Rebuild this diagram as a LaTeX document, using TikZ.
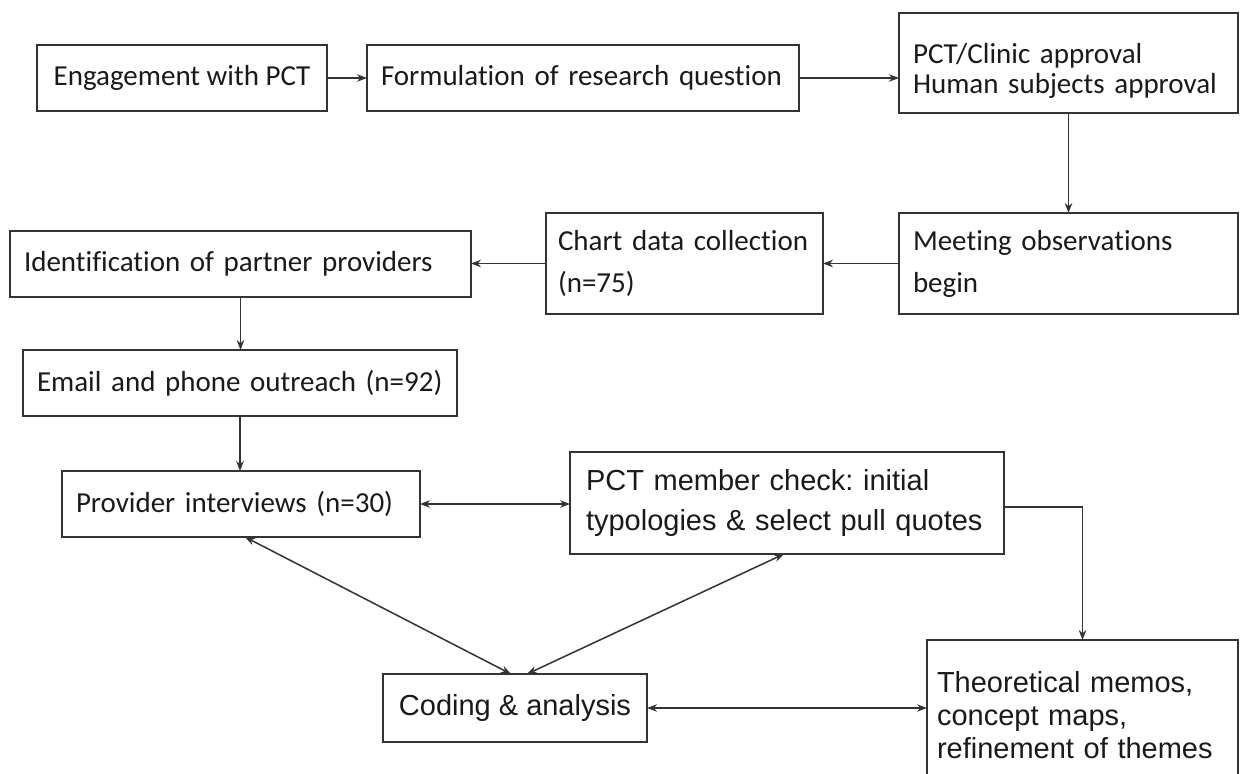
\documentclass[tikz,border=0pt]{standalone}
\usepackage{fontspec}
\setmainfont{Carlito}[Ligatures=NoCommon]
\newfontfamily\arialf{Liberation Sans}
\usetikzlibrary{arrows.meta,calc}
\definecolor{linec}{HTML}{333333}
\definecolor{txtc}{HTML}{1A1A1A}
\frenchspacing
\begin{document}
\begin{tikzpicture}[x=1pt,y=-1pt,
  box/.style={draw=linec, line width=1.6pt, anchor=north west, align=left,
    inner xsep=14pt, inner ysep=0pt, outer sep=0pt, text=txtc,
    font=\fontsize{29}{30}\selectfont},
  tip/.tip={Stealth[length=10pt,width=7.5pt]},
  conn/.style={draw=linec, line width=1.5pt, -tip},
  dconn/.style={draw=linec, line width=1.5pt, tip-tip}]
\clip (0,0) rectangle (1243,774);
\fill[white] (0,0) rectangle (1243,774);

\node[box, align=center, minimum width=290pt, minimum height=66pt] (b1) at (37,45) {Engagement with PCT};
\node[box, text width=404pt, minimum height=66pt] (b2) at (367,45) {Formulation of research question};
\node[box, text width=311pt, minimum height=100pt, inner xsep=14pt] (b3) at (899,13) {\rule{0pt}{36pt}PCT/Clinic approval\\Human subjects approval};
\node[box, text width=311pt, minimum height=101pt, font=\fontsize{29}{42}\selectfont] (b4) at (899,213) {Meeting observations\\begin};
\node[box, text width=253pt, minimum height=101pt, inner xsep=12pt, font=\fontsize{29}{42}\selectfont] (b5) at (546,213) {Chart data collection\\(n=75)};
\node[box, text width=433pt, minimum height=66pt] (b6) at (10,231) {Identification of partner providers};
\node[box, text width=406pt, minimum height=66pt] (b7) at (23,350) {Email and phone outreach (n=92)};
\node[box, text width=330pt, minimum height=66pt] (b8) at (62,471) {Provider interviews (n=30)};
\node[box, text width=402pt, minimum height=102pt, inner xsep=16pt, font=\arialf\fontsize{29}{40}\selectfont] (b9) at (570,452) {PCT member check: initial\\typologies \& select pull quotes};
\node[box, align=center, minimum width=264pt, minimum height=68pt, font=\arialf\fontsize{29}{33}\selectfont] (b10) at (383,674) {Coding \& analysis};
\node[box, text width=291pt, minimum height=150pt, inner xsep=10pt, font=\arialf\fontsize{29}{33}\selectfont] (b11) at (927,640) {Theoretical memos,\\concept maps,\\refinement of themes};

\draw[conn] (b1.east) -- (b2.west);
\draw[conn] (b2.east) -- (b2.east -| b3.west);
\draw[conn] (b3.south) -- (b4.north);
\draw[conn] (b4.west) -- (b4.west -| b5.east);
\draw[conn] (b5.west) -- (b5.west -| b6.east);
\draw[conn] (b6.south) -- (b6.south |- b7.north);
\draw[conn] (b7.south) -- (b7.south |- b8.north);
\draw[dconn] (b8.east) -- (b8.east -| b9.west);
\draw[conn] ($(b9.east)+(0,4)$) -| (b11.north);
\draw[dconn] (b10.east) -- (b10.east -| b11.west);
\draw[dconn] ($(b8.south)+(4,0)$) -- ($(b10.north)+(-4,0)$);
\draw[dconn] ($(b9.south)+(-3,0)$) -- ($(b10.north)+(12,0)$);
\end{tikzpicture}
\end{document}
